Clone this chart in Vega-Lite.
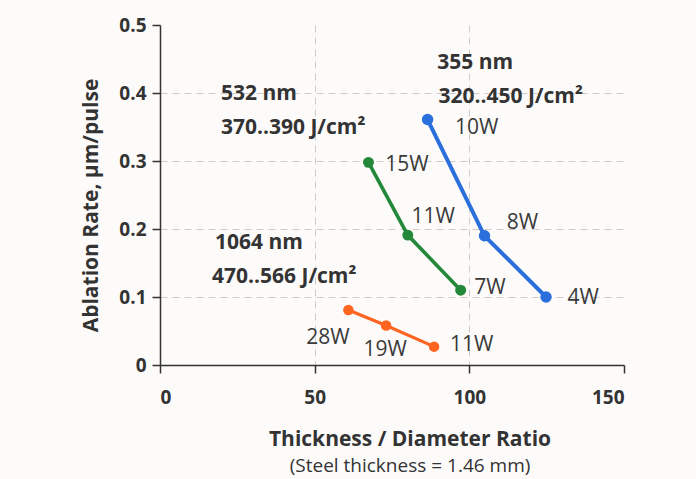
{
  "$schema": "https://vega.github.io/schema/vega-lite/v6.json",
  "width": 464,
  "height": 340,
  "autosize": {"type": "none"},
  "padding": {"left": 160, "top": 25, "right": 72, "bottom": 114},
  "background": "#fdfbfa",
  "config": {
    "view": {"stroke": null},
    "font": "Open Sans",
    "axis": {
      "domainColor": "#333333",
      "domainWidth": 1.5,
      "tickColor": "#333333",
      "tickWidth": 1.5,
      "tickSize": 8,
      "labelFont": "Open Sans",
      "labelFontWeight": "bold",
      "labelFontSize": 19,
      "labelColor": "#333333",
      "titleFont": "Open Sans",
      "titleColor": "#333333",
      "gridColor": "#cccccc",
      "gridDash": [7, 5],
      "gridWidth": 1
    }
  },
  "title": {
    "text": "Thickness / Diameter Ratio",
    "subtitle": "(Steel thickness = 1.46 mm)",
    "orient": "bottom",
    "anchor": "middle",
    "dx": 18,
    "offset": 22,
    "font": "Open Sans",
    "fontSize": 21,
    "fontWeight": "bold",
    "color": "#333333",
    "subtitleFont": "Open Sans",
    "subtitleFontSize": 19,
    "subtitleColor": "#333333",
    "subtitlePadding": 7
  },
  "datasets": {
    "pts": [
      {"series": "355 nm", "ratio": 86.5, "rate": 0.361},
      {"series": "355 nm", "ratio": 104.9, "rate": 0.19},
      {"series": "355 nm", "ratio": 124.8, "rate": 0.1},
      {"series": "532 nm", "ratio": 67.4, "rate": 0.298},
      {"series": "532 nm", "ratio": 80.1, "rate": 0.191},
      {"series": "532 nm", "ratio": 97.2, "rate": 0.11},
      {"series": "1064 nm", "ratio": 60.9, "rate": 0.081},
      {"series": "1064 nm", "ratio": 73.1, "rate": 0.058},
      {"series": "1064 nm", "ratio": 88.6, "rate": 0.027}
    ],
    "powers": [
      {"label": "10W", "lx": 102.4, "ly": 0.349},
      {"label": "8W", "lx": 117.2, "ly": 0.209},
      {"label": "4W", "lx": 136.8, "ly": 0.098},
      {"label": "15W", "lx": 79.8, "ly": 0.294},
      {"label": "11W", "lx": 88.3, "ly": 0.218},
      {"label": "7W", "lx": 106.7, "ly": 0.113},
      {"label": "28W", "lx": 54.3, "ly": 0.04},
      {"label": "19W", "lx": 72.8, "ly": 0.022},
      {"label": "11W", "lx": 100.8, "ly": 0.029}
    ],
    "notes": [
      {"note": "355 nm", "nx": 89.6, "ny": 0.444},
      {"note": "320..450 J/cm²", "nx": 90, "ny": 0.394},
      {"note": "532 nm", "nx": 19.7, "ny": 0.399},
      {"note": "370..390 J/cm²", "nx": 19.7, "ny": 0.349},
      {"note": "1064 nm", "nx": 17.8, "ny": 0.179},
      {"note": "470..566 J/cm²", "nx": 16.8, "ny": 0.129}
    ]
  },
  "layer": [
    {
      "data": {"name": "pts"},
      "mark": {"type": "line"},
      "encoding": {
        "x": {
          "field": "ratio", "type": "quantitative",
          "scale": {"domain": [0, 150], "nice": false},
          "axis": {
            "values": [0, 50, 100, 150],
            "title": null,
            "labelPadding": 15,
            "grid": true,
            "gridOpacity": {"condition": {"test": "datum.value == 0 || datum.value == 150", "value": 0}, "value": 1}
          }
        },
        "y": {
          "field": "rate", "type": "quantitative",
          "scale": {"domain": [0, 0.5], "nice": false},
          "axis": {
            "values": [0, 0.1, 0.2, 0.3, 0.4, 0.5],
            "format": "~g",
            "labelPadding": 6,
            "grid": true,
            "gridOpacity": {"condition": {"test": "datum.value == 0 || datum.value == 0.5", "value": 0}, "value": 1},
            "title": "Ablation Rate, μm/pulse",
            "titleFontSize": 21,
            "titleFontWeight": "bold",
            "titleX": -69,
            "titleY": 180,
            "titleAngle": -90,
            "titleAlign": "center",
            "titleBaseline": "middle"
          }
        },
        "color": {
          "field": "series", "type": "nominal",
          "scale": {"domain": ["355 nm", "532 nm", "1064 nm"], "range": ["#2a6fdb", "#24883a", "#ff6420"]},
          "legend": null
        },
        "strokeWidth": {
          "field": "series", "type": "nominal",
          "scale": {"domain": ["355 nm", "532 nm", "1064 nm"], "range": [4, 3.2, 3]},
          "legend": null
        }
      }
    },
    {
      "data": {"name": "pts"},
      "mark": {"type": "circle", "opacity": 1},
      "encoding": {
        "x": {"field": "ratio", "type": "quantitative"},
        "y": {"field": "rate", "type": "quantitative"},
        "color": {"field": "series", "type": "nominal", "legend": null},
        "size": {
          "field": "series", "type": "nominal",
          "scale": {"domain": ["355 nm", "532 nm", "1064 nm"], "range": [130, 110, 100]},
          "legend": null
        }
      }
    },
    {
      "data": {"name": "powers"},
      "mark": {"type": "text", "font": "Open Sans", "fontSize": 21, "color": "#3a3a3a", "align": "center", "baseline": "middle"},
      "encoding": {
        "x": {"field": "lx", "type": "quantitative"},
        "y": {"field": "ly", "type": "quantitative"},
        "text": {"field": "label"}
      }
    },
    {
      "data": {"name": "notes"},
      "mark": {"type": "text", "font": "Open Sans", "fontSize": 21, "fontWeight": "bold", "color": "#333333", "align": "left", "baseline": "middle"},
      "encoding": {
        "x": {"field": "nx", "type": "quantitative"},
        "y": {"field": "ny", "type": "quantitative"},
        "text": {"field": "note"}
      }
    }
  ]
}
